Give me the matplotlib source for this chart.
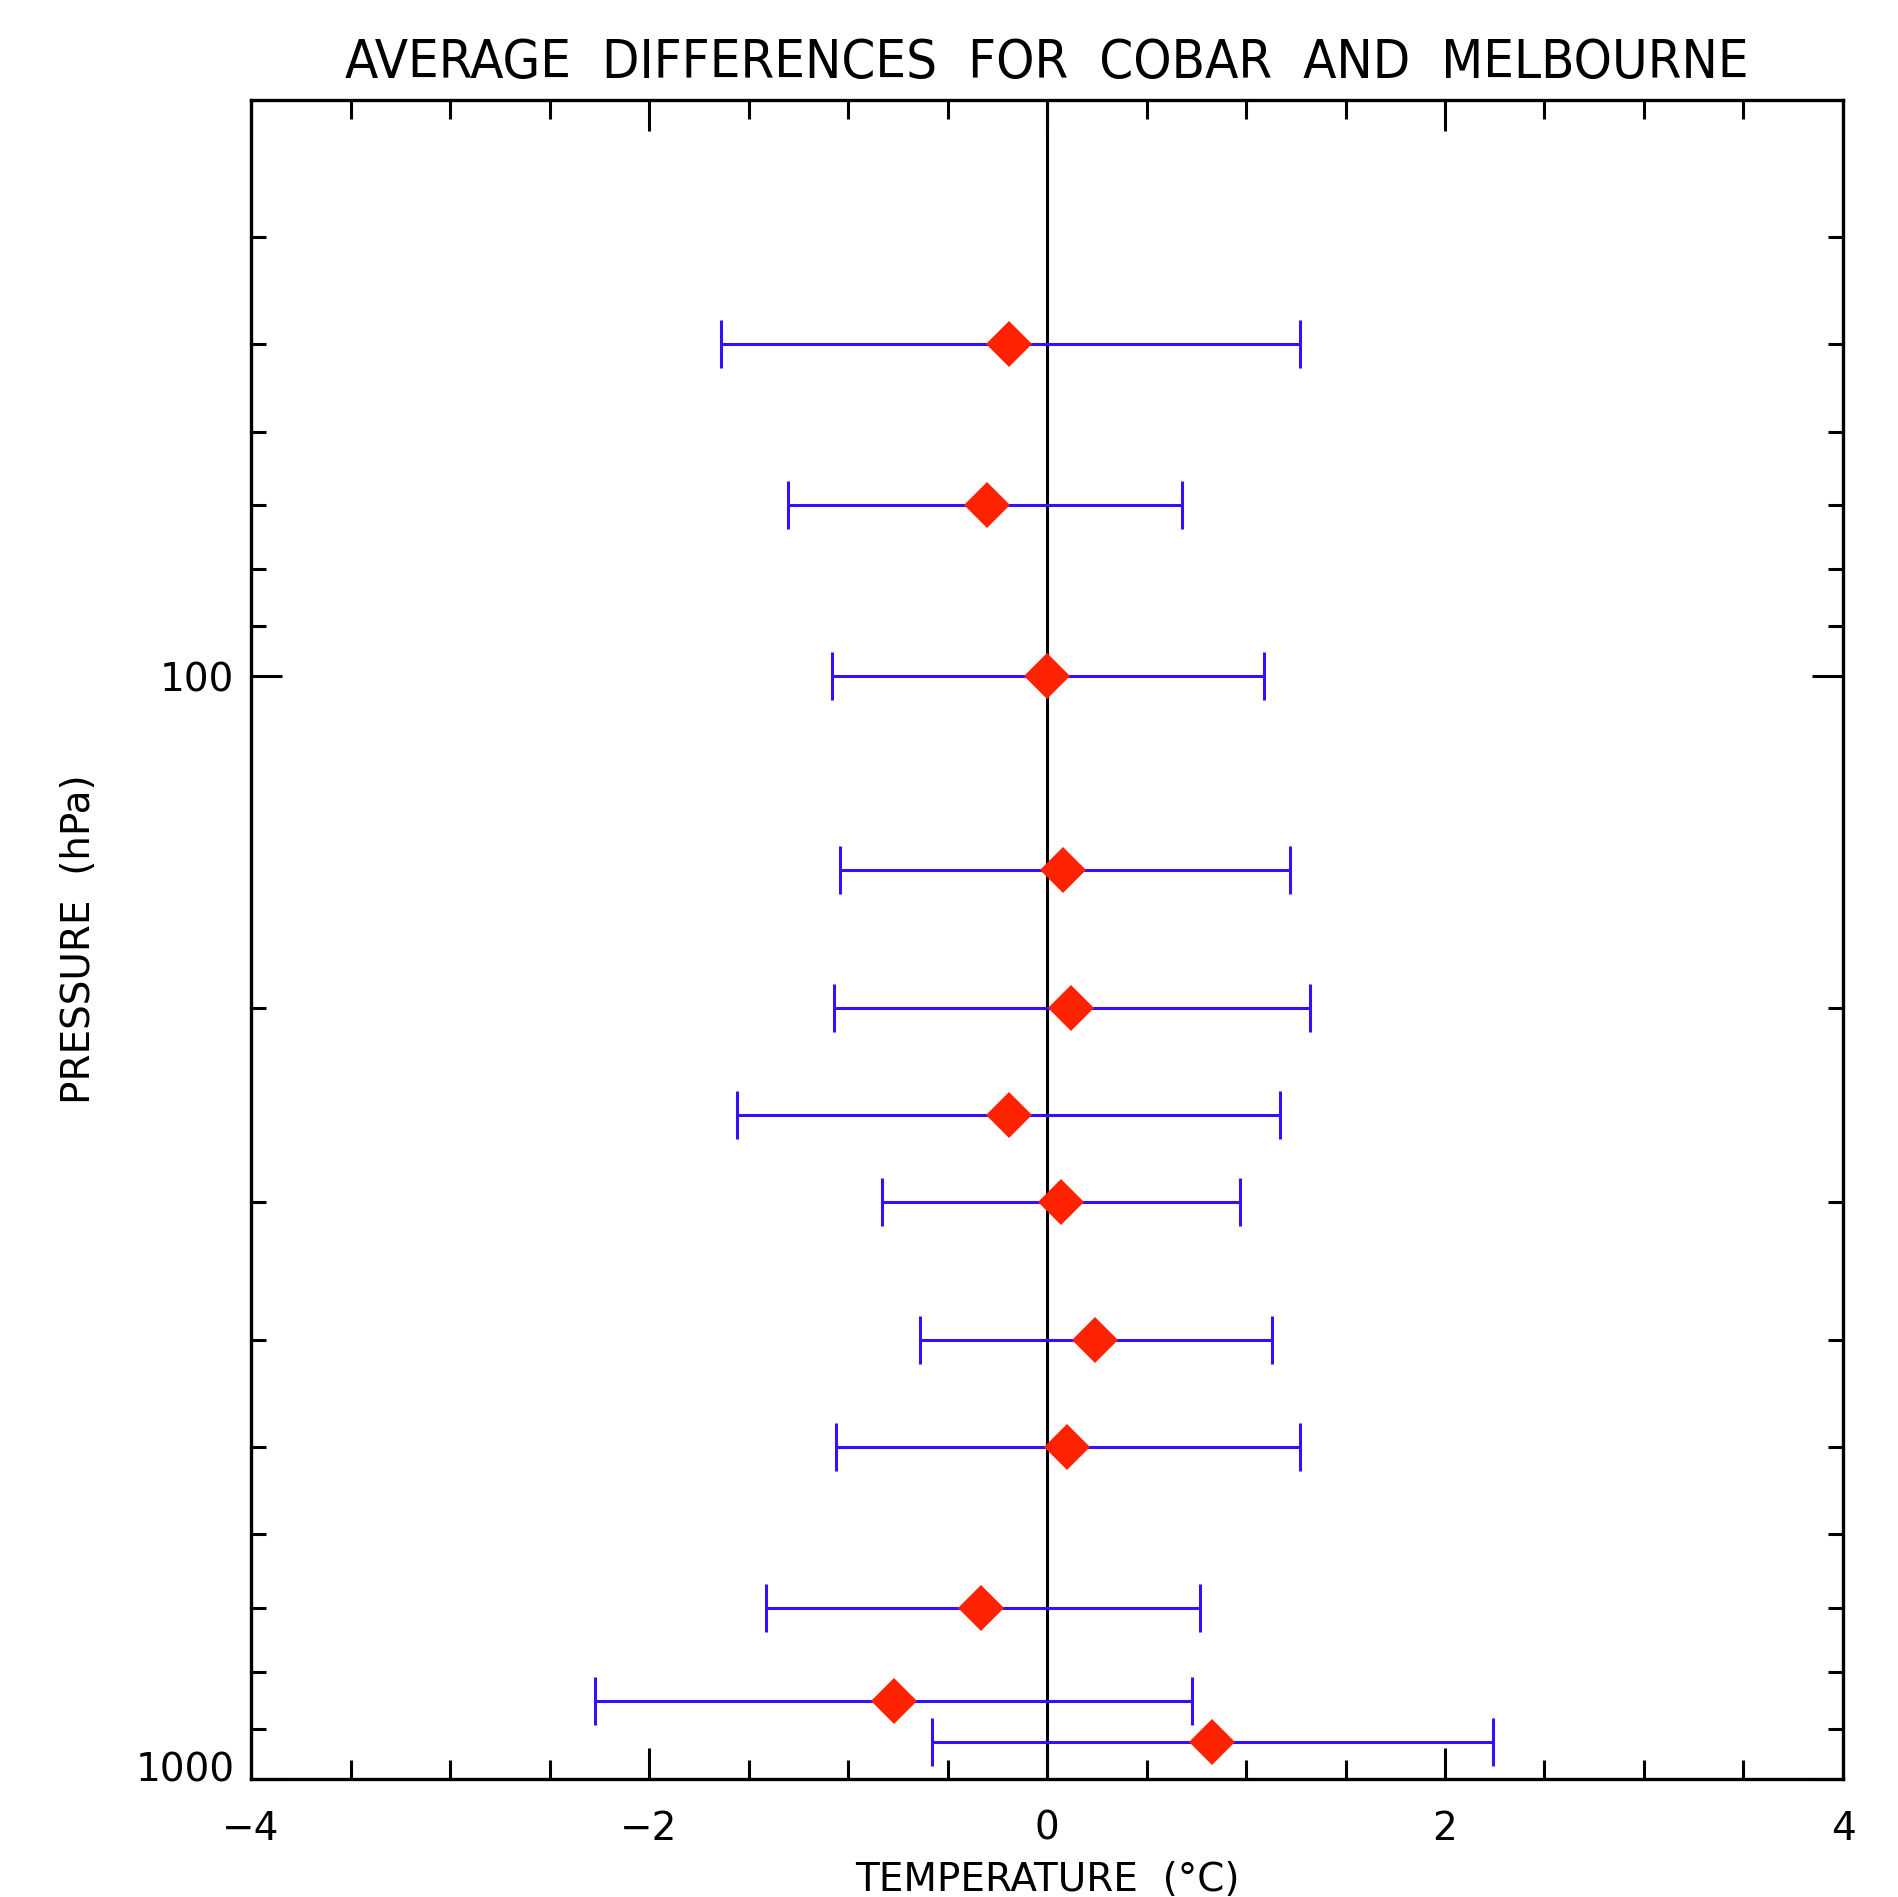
import matplotlib
matplotlib.use("Agg")
import matplotlib.pyplot as plt
from matplotlib.ticker import FixedLocator, NullFormatter, FixedFormatter, MultipleLocator
from matplotlib.transforms import ScaledTranslation

# Data (pressure levels in hPa, mean temperature difference and error-bar ends in degC)
pressure = [50, 70, 100, 150, 200, 250, 300, 400, 500, 700, 850, 925]
mean_diff = [-0.19, -0.30, 0.00, 0.08, 0.12, -0.19, 0.07, 0.24, 0.10, -0.33, -0.77, 0.83]
err_low = [-1.64, -1.30, -1.08, -1.04, -1.07, -1.56, -0.83, -0.64, -1.06, -1.41, -2.27, -0.58]
err_high = [1.27, 0.68, 1.09, 1.22, 1.32, 1.17, 0.97, 1.13, 1.27, 0.77, 0.73, 2.24]

y_major = [100, 1000]
y_major_labels = ["100", "1000"]
y_minor = [40, 50, 60, 70, 80, 90, 200, 300, 400, 500, 600, 700, 800, 900]
x_major = [-4, -2, 0, 2, 4]
x_major_labels = ["\u22124", "\u22122", "0", "2", "4"]

title = "AVERAGE  DIFFERENCES  FOR  COBAR  AND  MELBOURNE"
xlabel = "TEMPERATURE  (\u00b0C)"
ylabel = "PRESSURE  (hPa)"

fig = plt.figure(figsize=(18.99, 18.97), dpi=100)
ax = fig.add_axes([0.1322, 0.0622, 0.8383, 0.8853])

ax.set_yscale("log")
ax.set_ylim(1000, 30)
ax.set_xlim(-4, 4)

ax.axvline(0, color="black", lw=2.2, zorder=1)

xerr_lo = [m - l for m, l in zip(mean_diff, err_low)]
xerr_hi = [h - m for m, h in zip(mean_diff, err_high)]
ax.errorbar(mean_diff, pressure, xerr=[xerr_lo, xerr_hi], fmt="none",
            ecolor="#3311FF", elinewidth=2.2, capsize=17, capthick=2.2, zorder=2)
ax.plot(mean_diff, pressure, linestyle="none", marker="D", markersize=23,
        color="#FF2200", markeredgewidth=0, zorder=3)

ax.yaxis.set_major_locator(FixedLocator(y_major))
ax.yaxis.set_major_formatter(FixedFormatter(y_major_labels))
ax.yaxis.set_minor_locator(FixedLocator(y_minor))
ax.yaxis.set_minor_formatter(NullFormatter())
ax.xaxis.set_major_locator(FixedLocator(x_major))
ax.xaxis.set_minor_locator(MultipleLocator(0.5))
ax.xaxis.set_major_formatter(FixedFormatter(x_major_labels))

ax.tick_params(axis="both", which="both", direction="in", top=True, right=True,
               width=2.2, colors="black", labelsize=28)
ax.tick_params(axis="x", which="major", length=22, pad=22)
ax.tick_params(axis="x", which="minor", length=14)
ax.tick_params(axis="y", which="major", length=22, pad=12)
ax.tick_params(axis="y", which="minor", length=11)

for sp in ax.spines.values():
    sp.set_linewidth(2.4)

ax.set_xlabel(xlabel, fontsize=28, va="top")
ax.xaxis.set_label_coords(0.5, -0.049)
ax.set_ylabel(ylabel, fontsize=28, va="center")
ax.yaxis.set_label_coords(-0.108, 0.5)

# nudge the "1000" label slightly upward as in the reference
fig.canvas.draw()
ticks = ax.yaxis.get_major_ticks()
lab = ticks[1].label1
lab.set_transform(lab.get_transform() + ScaledTranslation(0, 0.13, fig.dpi_scale_trans))

ax.text(0.5, 1.0, title, transform=ax.transAxes, ha="center", va="bottom",
        fontsize=39, fontstretch="condensed")
ax.texts[-1].set_transform(ax.transAxes + ScaledTranslation(0, 0.11, fig.dpi_scale_trans))

fig.savefig("out.png", dpi=100, facecolor="white")
